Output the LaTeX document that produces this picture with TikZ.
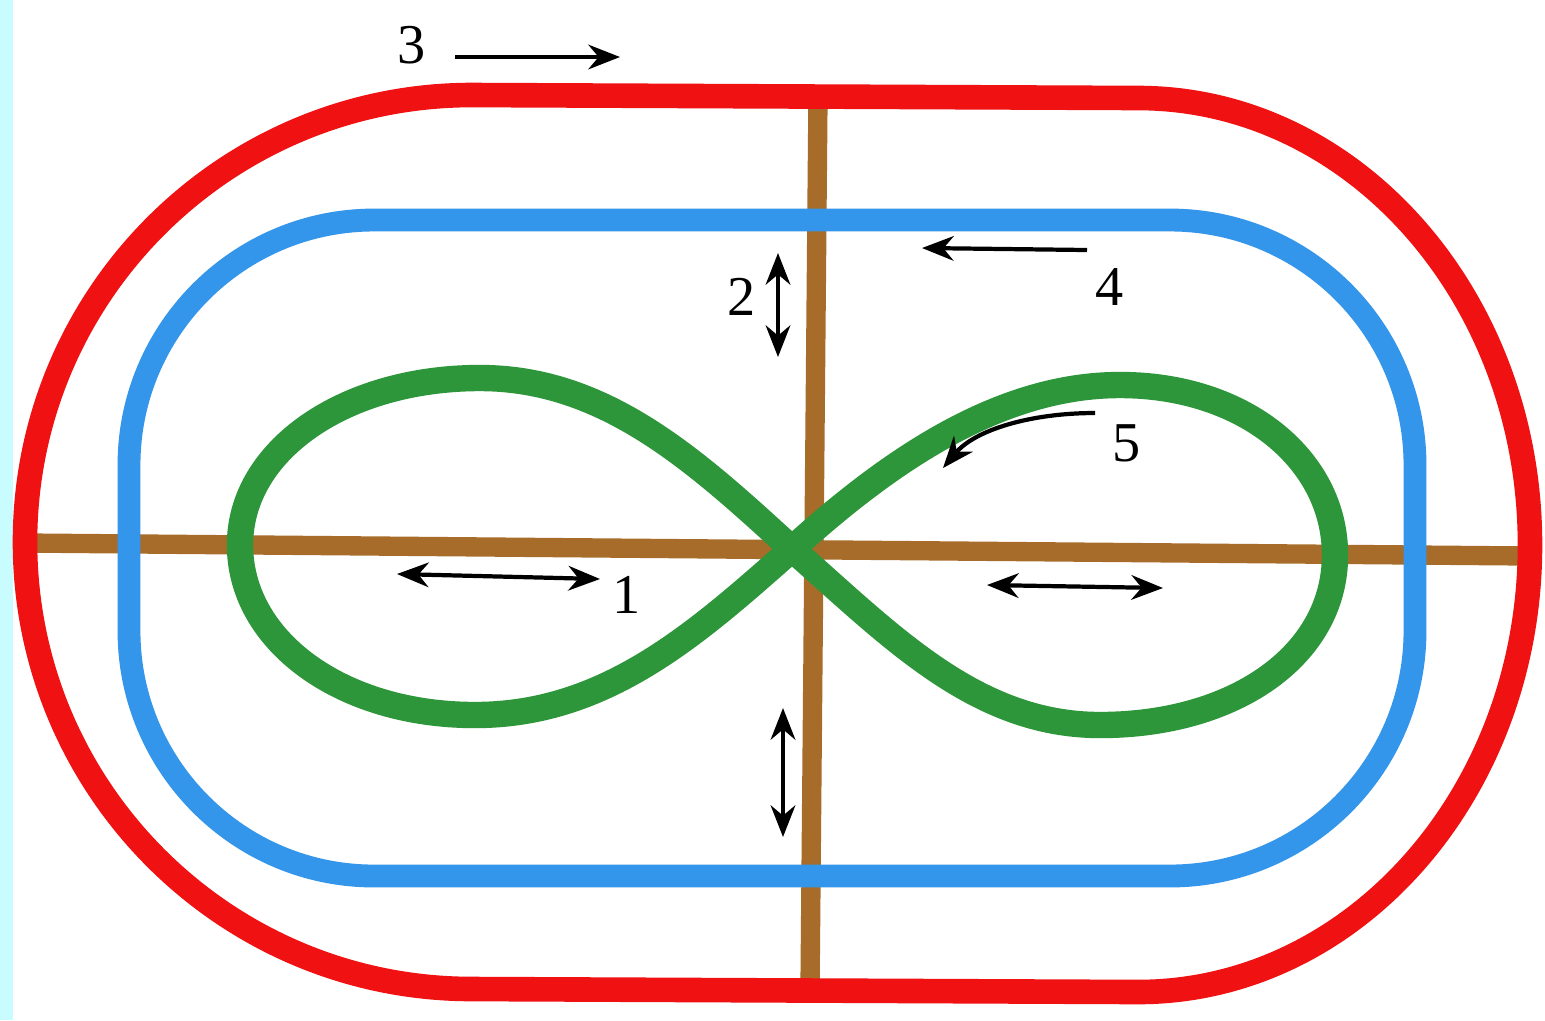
\documentclass[tikz,border=0pt]{standalone}
\usepackage{fontspec}
\setmainfont{Liberation Serif}
\usetikzlibrary{arrows.meta}

\definecolor{trackred}{RGB}{240,18,18}
\definecolor{trackblue}{RGB}{52,150,235}
\definecolor{trackbrown}{RGB}{168,108,42}
\definecolor{trackgreen}{RGB}{46,150,58}
\definecolor{sidecyan}{RGB}{200,252,255}

\begin{document}
\begin{tikzpicture}[x=0.01cm,y=-0.01cm,
  oneway/.style={black,line width=1.2pt,-{Stealth[length=9pt,width=7pt]}},
  twoway/.style={black,line width=1.2pt,{Stealth[length=9pt,width=7pt]}-{Stealth[length=9pt,width=7pt]}},
  num/.style={font=\fontsize{16}{18}\selectfont,inner sep=0pt}]
  \fill[white] (0,0) rectangle (1545,1020);
  \fill[sidecyan] (0,0) rectangle (13,1020);
  \useasboundingbox (0,0) rectangle (1545,1020);
  % axes of the field
  \draw[trackbrown,line width=5.5pt] (25,543) -- (1530,556);
  \draw[trackbrown,line width=5.5pt] (818,95) -- (810,990);
  % inner track
  \draw[trackblue,line width=6.5pt,rounded corners=2.45cm] (129,220) rectangle (1415,876);
  % outer track
  \draw[trackred,line width=7pt] (472,95) -- (1138,98)
    arc[start angle=-90,end angle=90,x radius=392,y radius=447] -- (472,989)
    arc[start angle=90,end angle=270,radius=447] -- cycle;
  % figure eight
  \draw[trackgreen,line width=7.5pt] (792,549)
    .. controls (890,460) and (1000,385) .. (1120,385)
    .. controls (1245,385) and (1335,460) .. (1335,555)
    .. controls (1335,655) and (1235,725) .. (1100,725)
    .. controls (975,725) and (890,635) .. (792,549)
    .. controls (695,460) and (605,378) .. (480,378)
    .. controls (345,378) and (240,450) .. (240,545)
    .. controls (240,640) and (340,715) .. (475,715)
    .. controls (605,715) and (695,635) .. (792,549);
  % labels and motions
  \node[num] (n3) at (412,45) {3};
  \coordinate (m3a) at (455,57); \coordinate (m3b) at (620,57);
  \draw[oneway] (m3a) -- (m3b);
  \node[num] (n2) at (742,297) {2};
  \coordinate (m2a) at (778,253); \coordinate (m2b) at (778,357);
  \draw[twoway] (m2a) -- (m2b);
  \node[num] (n4) at (1110,287) {4};
  \coordinate (m4a) at (1087,250); \coordinate (m4b) at (922,248);
  \draw[oneway] (m4a) -- (m4b);
  \node[num] (n5) at (1127,443) {5};
  \coordinate (m5a) at (1095,413); \coordinate (m5b) at (943,468);
  \draw[oneway] (m5a) .. controls (1030,413) and (975,430) .. (m5b);
  \node[num] (n1) at (627,595) {1};
  \coordinate (m1a) at (397,574); \coordinate (m1b) at (600,579);
  \draw[twoway] (m1a) -- (m1b);
  \coordinate (m6a) at (987,585); \coordinate (m6b) at (1163,588);
  \draw[twoway] (m6a) -- (m6b);
  \coordinate (m7a) at (783,708); \coordinate (m7b) at (783,837);
  \draw[twoway] (m7a) -- (m7b);
\end{tikzpicture}
\end{document}
